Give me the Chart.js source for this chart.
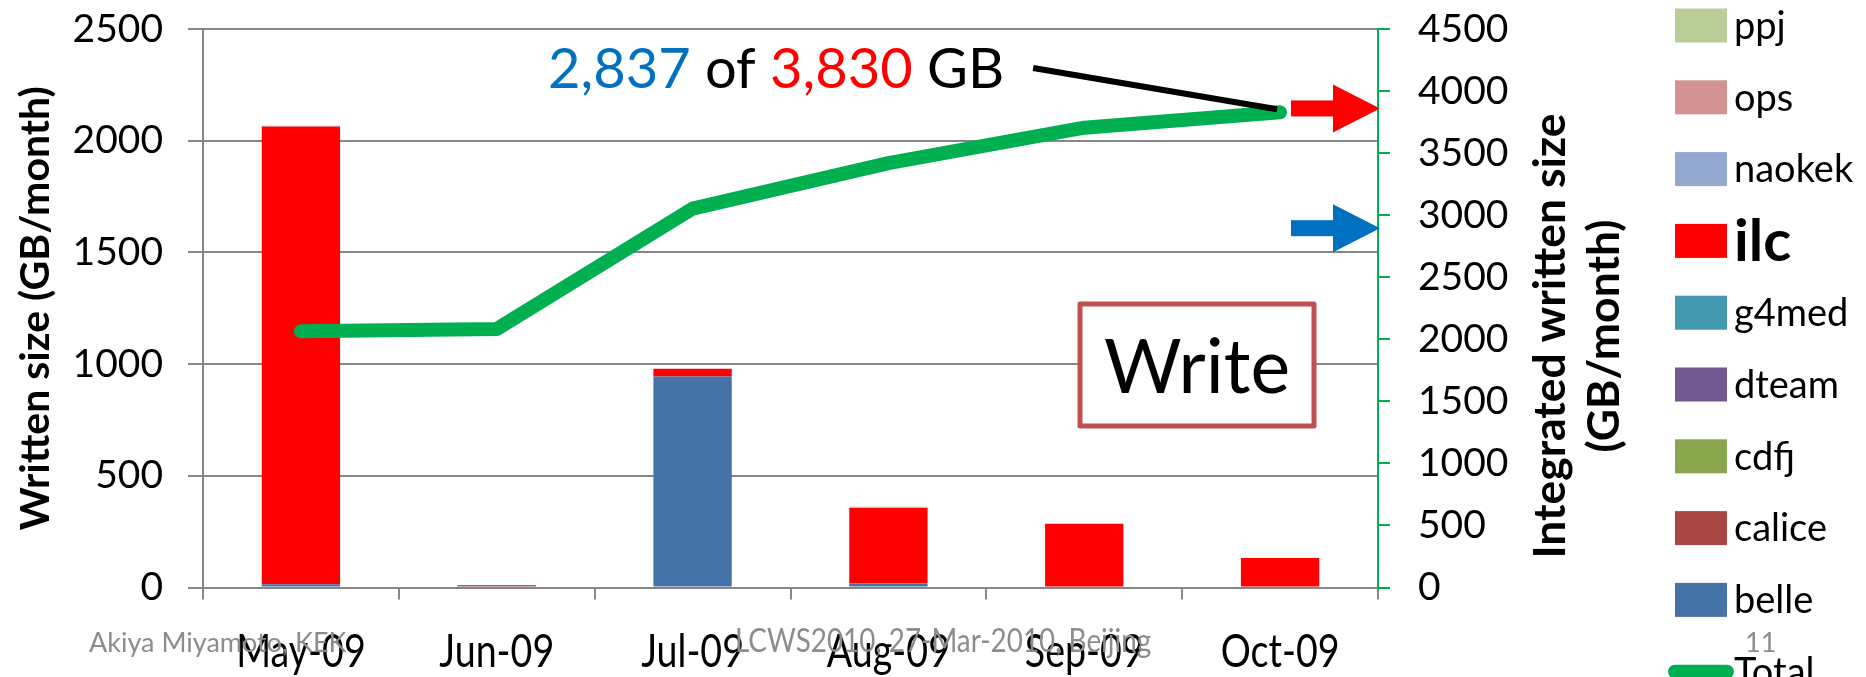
<!DOCTYPE html>
<html>
<head>
<meta charset="utf-8">
<script src="https://cdn.jsdelivr.net/npm/chart.js@4.4.1/dist/chart.umd.min.js"></script>
<style>
  html, body { margin: 0; padding: 0; background: #fff; }
  #wrap { width: 1866px; height: 677px; position: relative; }
</style>
</head>
<body>
<div id="wrap"><canvas id="chart"></canvas></div>
<script>
const months = ['May-09', 'Jun-09', 'Jul-09', 'Aug-09', 'Sep-09', 'Oct-09'];

// GB written per month, per group (stack bottom first)
const belle  = [14, 6, 945, 16, 0, 0];
const calice = [0, 0, 0, 0, 0, 0];
const cdfj   = [0, 0, 0, 4, 0, 0];
const dteam  = [0, 0, 0, 0, 0, 0];
const g4med  = [0, 0, 0, 0, 0, 0];
const ilc    = [2048, 4, 34, 336, 285, 132];
const naokek = [0, 0, 0, 0, 0, 0];
const ops    = [5, 1, 0, 0, 0, 0];
const ppj    = [0, 0, 0, 6, 0, 0];

// integrated size, right axis
const total = [2064, 2083, 3053, 3419, 3705, 3829];

// axis ranges
const leftMax = 2500, leftStep = 500;
const rightMax = 4500, rightStep = 500;

// annotation: used of total, and where the arrows point on the right axis
const usedText = '2,837';
const totalText = '3,830';
const redArrowAt = 3860;
const blueArrowAt = 2895;

const GREY = '#868686';
const GREEN = '#00B050';

const groups = [
  { label: 'belle',  data: belle,  color: '#4572A7' },
  { label: 'calice', data: calice, color: '#AA4643' },
  { label: 'cdfj',   data: cdfj,   color: '#89A54E' },
  { label: 'dteam',  data: dteam,  color: '#71588F' },
  { label: 'g4med',  data: g4med,  color: '#4198AF' },
  { label: 'ilc',    data: ilc,    color: '#FF0000' },
  { label: 'naokek', data: naokek, color: '#93A9CF' },
  { label: 'ops',    data: ops,    color: '#D19392' },
  { label: 'ppj',    data: ppj,    color: '#B9CD96' }
];

const datasets = groups.map(g => ({
  type: 'bar',
  label: g.label,
  data: g.data,
  backgroundColor: g.color,
  borderWidth: 0,
  yAxisID: 'y',
  order: 1
}));

datasets.push({
  type: 'line',
  label: 'Total',
  data: total,
  yAxisID: 'y2',
  borderColor: GREEN,
  borderWidth: 14,
  borderCapStyle: 'round',
  borderJoinStyle: 'round',
  pointRadius: 0,
  tension: 0,
  fill: false,
  order: 0
});

// text squeezed horizontally (the slide used a narrow font)
function narrowText(ctx, text, x, y, squeeze) {
  ctx.save();
  ctx.translate(x, y);
  ctx.scale(squeeze, 1);
  ctx.fillText(text, 0, 0);
  ctx.restore();
}

// fixed axis widths, and no extra room above/below for the tick labels
function fixWidth(w) {
  return s => {
    s.width = w;
    s.paddingTop = 0;
    s.paddingBottom = 0;
  };
}

// box, annotation, arrows, legend, footer
const overlay = {
  id: 'overlay',
  afterDatasetsDraw(chart) {
    const { ctx, chartArea, scales } = chart;
    const xs = scales.x, y2 = scales.y2;
    ctx.save();

    // "Write" box
    const bx = chartArea.left + 877, by = chartArea.top + 275, bw = 234, bh = 122;
    ctx.fillStyle = '#fff';
    ctx.fillRect(bx, by, bw, bh);
    ctx.strokeStyle = '#C0504D';
    ctx.lineWidth = 5;
    ctx.lineJoin = 'round';
    ctx.strokeRect(bx, by, bw, bh);
    ctx.fillStyle = '#000';
    ctx.font = '75px Lato';
    ctx.textAlign = 'center';
    ctx.textBaseline = 'alphabetic';
    ctx.fillText('Write', bx + bw / 2, by + 89);

    // "2,837 of 3,830 GB"
    ctx.font = '56px Lato';
    ctx.textAlign = 'left';
    let tx = chartArea.left + 345;
    const ty = chartArea.top + 59;
    const parts = [[usedText, '#0070C0'], [' of ', '#000'], [totalText, '#FF0000'], [' GB', '#000']];
    parts.forEach(p => {
      ctx.fillStyle = p[1];
      ctx.fillText(p[0], tx, ty);
      tx += ctx.measureText(p[0]).width;
    });

    // pointer to last point
    ctx.strokeStyle = '#000';
    ctx.lineWidth = 6;
    ctx.beginPath();
    ctx.moveTo(tx + 29, ty - 20);
    ctx.lineTo(xs.getPixelForValue(5) - 3, y2.getPixelForValue(total[5]) - 3);
    ctx.stroke();

    // arrows on the right axis
    const ax = chartArea.right;
    [[redArrowAt, '#FF0000'], [blueArrowAt, '#0070C0']].forEach(a => {
      const y = y2.getPixelForValue(a[0]);
      ctx.fillStyle = a[1];
      ctx.fillRect(ax - 87, y - 8, 43, 16);
      ctx.beginPath();
      ctx.moveTo(ax - 45, y - 24);
      ctx.lineTo(ax + 2, y);
      ctx.lineTo(ax - 45, y + 24);
      ctx.closePath();
      ctx.fill();
    });
    ctx.restore();
  },
  afterDraw(chart) {
    const { ctx } = chart;
    const xs = chart.scales.x;
    ctx.save();

    // month labels
    ctx.fillStyle = '#000';
    ctx.font = '47px Lato';
    ctx.textAlign = 'center';
    ctx.textBaseline = 'alphabetic';
    chart.data.labels.forEach((m, i) => {
      narrowText(ctx, m, xs.getPixelForValue(i), 667, 0.8);
    });

    // right axis title, two lines reading upwards
    ctx.font = 'bold 44.5px Lato';
    ctx.textBaseline = 'middle';
    ctx.translate(1551, 336);
    ctx.rotate(-Math.PI / 2);
    ctx.fillText('Integrated written size', 0, 0);
    ctx.fillText('(GB/month)', 0, 54);
    ctx.setTransform(1, 0, 0, 1, 0, 0);

    // legend
    const bars = chart.data.datasets.filter(d => d.type === 'bar').slice().reverse();
    const x0 = 1675, sw = 52, sh = 34, gap = 71.8, top = 25.5;
    ctx.textAlign = 'left';
    bars.forEach((d, i) => {
      const cy = top + i * gap;
      ctx.fillStyle = d.backgroundColor;
      ctx.fillRect(x0, cy - sh / 2, sw, sh);
      ctx.fillStyle = '#000';
      ctx.font = d.label === 'ilc' ? 'bold 58px Lato' : '38px Lato';
      ctx.fillText(d.label, x0 + 59, cy + 1);
    });
    const line = chart.data.datasets.find(d => d.type === 'line');
    const ly = top + bars.length * gap;
    ctx.strokeStyle = line.borderColor;
    ctx.lineWidth = 14;
    ctx.lineCap = 'round';
    ctx.beginPath();
    ctx.moveTo(x0, ly);
    ctx.lineTo(x0 + sw, ly);
    ctx.stroke();
    ctx.fillStyle = '#000';
    ctx.font = '38px Lato';
    ctx.fillText(line.label, x0 + 59, ly + 1);

    // slide footer
    ctx.fillStyle = '#8C8C8C';
    ctx.textBaseline = 'alphabetic';
    ctx.font = '27px Lato';
    ctx.fillText('Akiya Miyamoto, KEK', 89, 652);
    ctx.fillText('11', 1745, 652);
    ctx.font = '32px Lato';
    narrowText(ctx, 'LCWS2010, 27-Mar-2010, Beijing', 735, 652, 0.87);
    ctx.restore();
  }
};

new Chart(document.getElementById('chart'), {
  data: { labels: months, datasets: datasets },
  plugins: [overlay],
  options: {
    responsive: true,
    maintainAspectRatio: false,
    animation: false,
    layout: { padding: { top: 29, left: 0, right: 0, bottom: 0 } },
    plugins: {
      legend: { display: false },
      tooltip: { enabled: false }
    },
    datasets: { bar: { categoryPercentage: 0.8, barPercentage: 0.5 } },
    scales: {
      x: {
        stacked: true,
        offset: true,
        grid: { offset: true, drawOnChartArea: false, tickLength: 12, color: GREY, lineWidth: 2 },
        border: { color: GREY, width: 2 },
        ticks: { display: false },
        afterFit: s => { s.height = 89.5; }
      },
      y: {
        stacked: true,
        position: 'left',
        min: 0,
        max: leftMax,
        ticks: { stepSize: leftStep, font: { family: 'Lato', size: 39 }, color: '#000', padding: 25, callback: v => String(v) },
        grid: { color: GREY, lineWidth: 2, tickLength: 15 },
        border: { color: GREY, width: 2 },
        title: {
          display: true,
          text: 'Written size (GB/month)',
          font: { family: 'Lato', size: 41, weight: 'bold' },
          color: '#000',
          padding: { top: 11, bottom: 0 }
        },
        afterFit: fixWidth(203)
      },
      y2: {
        position: 'right',
        min: 0,
        max: rightMax,
        ticks: { stepSize: rightStep, font: { family: 'Lato', size: 39 }, color: '#000', padding: 28, callback: v => String(v) },
        grid: { drawOnChartArea: false, color: GREEN, lineWidth: 2, tickLength: 12 },
        border: { color: GREEN, width: 2 },
        afterFit: fixWidth(488)
      }
    }
  }
});
</script>
</body>
</html>
